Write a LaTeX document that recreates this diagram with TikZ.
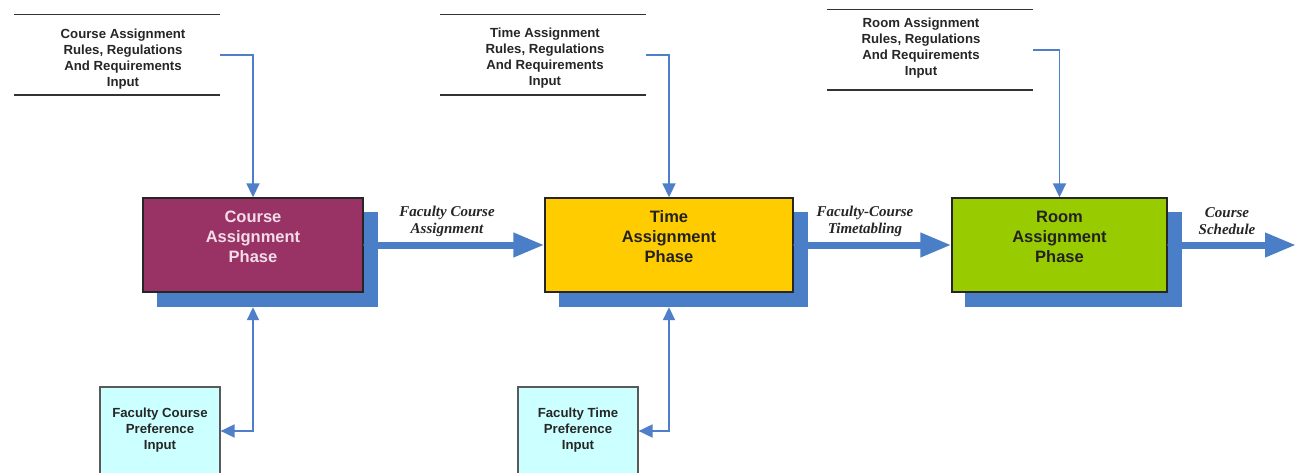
\documentclass[tikz,border=0pt]{standalone}
\usepackage{fontspec}
\setmainfont{Liberation Serif}
\newfontfamily\arialf{Liberation Sans}
\usetikzlibrary{arrows.meta}
\definecolor{sblue}{HTML}{4A7EC6}
\definecolor{cblue}{HTML}{4F7FC8}
\definecolor{maroon}{HTML}{993366}
\definecolor{pinktext}{HTML}{F2DCE8}
\definecolor{gold}{HTML}{FFCC00}
\definecolor{lime}{HTML}{99CC00}
\definecolor{paleblue}{HTML}{CCFFFF}
\definecolor{darktext}{HTML}{222222}
\begin{document}
\begin{tikzpicture}[x=1pt,y=-1pt,
  phasebox/.style={draw=black!85,line width=1.4pt,inner sep=0pt,minimum height=94pt},
  shadowbox/.style={fill=sblue,draw=none,inner sep=0pt,minimum height=95pt},
  phasetext/.style={font=\arialf\bfseries\fontsize{16.5}{20}\selectfont,align=center,inner sep=0pt},
  inputbox/.style={draw=none,inner sep=0pt,minimum height=80pt,minimum width=206pt},
  inputtext/.style={font=\arialf\bfseries\fontsize{13.2}{16}\selectfont,align=center,inner sep=0pt,text=black!85},
  rule/.style={draw=black!80,line width=1.4pt},
  prefbox/.style={draw=black!65,line width=1.2pt,fill=paleblue,inner sep=0pt,minimum width=120pt,minimum height=88pt},
  flowlabel/.style={font=\bfseries\itshape\fontsize{15}{17}\selectfont,align=center,inner sep=0pt,text=black!85},
  conn/.style={draw=cblue,line width=1.8pt,-{Triangle[length=14pt,width=13pt]}},
  conn2/.style={draw=cblue,line width=1.8pt,{Triangle[length=13pt,width=12pt]}-{Triangle[length=14pt,width=13pt]}},
  bigarrow/.style={draw=sblue,line width=7pt,{Circle[length=6pt,width=6pt]}-{Triangle[length=31pt,width=23pt]}}
]
\clip (0,0) rectangle (1298,473);
\fill[white] (0,0) rectangle (1298,473);

% shadows
\node[shadowbox,minimum width=221pt] (s1) at (267.5,259.5) {};
\node[shadowbox,minimum width=249pt] (s2) at (683.5,259.5) {};
\node[shadowbox,minimum width=217pt] (s3) at (1073.5,259.5) {};

% phase boxes
\node[phasebox,fill=maroon,minimum width=220pt] (p1) at (253,245) {};
\node[phasebox,fill=gold,minimum width=248pt] (p2) at (669,245) {};
\node[phasebox,fill=lime,minimum width=215pt] (p3) at (1059.5,245) {};
\node[phasetext,text=pinktext] (p1t) at (253,237) {Course\\Assignment\\Phase};
\node[phasetext,text=darktext] (p2t) at (669,237) {Time\\Assignment\\Phase};
\node[phasetext,text=darktext] (p3t) at (1059.5,237) {Room\\Assignment\\Phase};

% input blocks
\node[inputbox] (i1) at (117,55) {};
\node[inputbox] (i2) at (543,55) {};
\node[inputbox] (i3) at (930,50) {};
\foreach \n in {i1,i2,i3}{
  \draw[rule] (\n.north west) -- (\n.north east);
  \draw[rule] (\n.south west) -- (\n.south east);
}
\node[inputtext] (i1t) at (123,59) {Course Assignment\\Rules, Regulations\\And Requirements\\Input};
\node[inputtext] (i2t) at (545,58.5) {Time Assignment\\Rules, Regulations\\And Requirements\\Input};
\node[inputtext] (i3t) at (921,48) {Room Assignment\\Rules, Regulations\\And Requirements\\Input};

\draw[conn] (i1.east) -| (p1.north);
\draw[conn] (i2.east) -| (p2.north);
\draw[conn] (i3.east) -| (p3.north);

% preference boxes
\node[prefbox] (f1) at (160,431) {};
\node[prefbox] (f2) at (578,431) {};
\node[inputtext] (f1t) at (160,430) {Faculty Course\\Preference\\Input};
\node[inputtext] (f2t) at (578,430) {Faculty Time\\Preference\\Input};

\draw[conn2] (p1.south |- s1.south) |- (f1.east);
\draw[conn2] (p2.south |- s2.south) |- (f2.east);

% main flow
\coordinate (out) at (1296,245);
\draw[bigarrow] (p1.east) -- (p2.west);
\draw[bigarrow] (p2.east) -- (p3.west);
\draw[bigarrow] (p3.east) -- (out);

\node[flowlabel] (l1) at (447,221.5) {Faculty Course\\Assignment};
\node[flowlabel] (l2) at (865,221.5) {Faculty-Course\\Timetabling};
\node[flowlabel] (l3) at (1227,221.5) {Course\\Schedule};
\end{tikzpicture}
\end{document}
